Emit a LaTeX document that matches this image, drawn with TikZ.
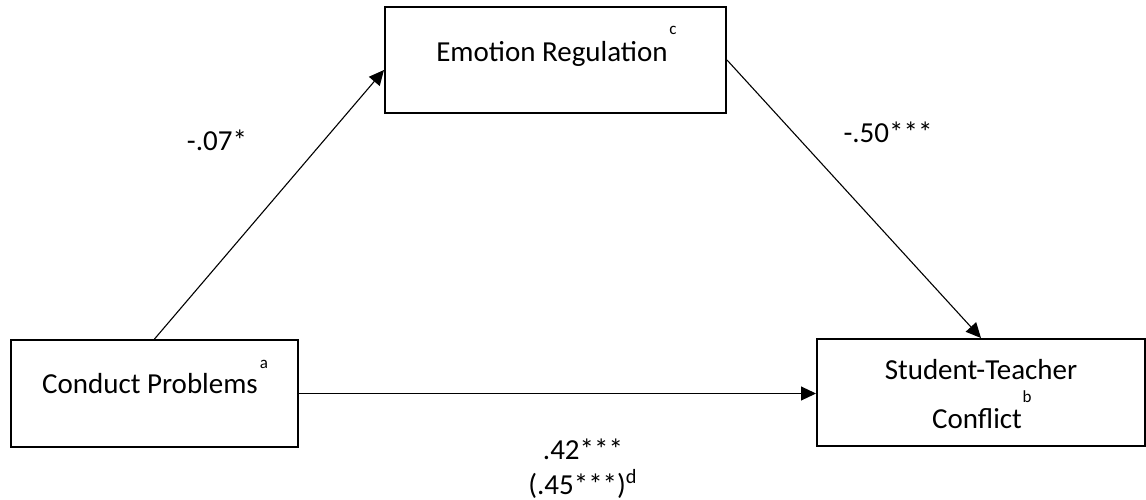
\documentclass[tikz,border=0pt]{standalone}
\usepackage{fontspec}
\setmainfont{Carlito}
\usepackage{tikz}
\usetikzlibrary{arrows.meta, positioning}

\begin{document}
\begin{tikzpicture}[x=0.5pt, y=-0.5pt,
    every node/.style={font=\fontsize{14.5}{17}\selectfont},
    varbox/.style={draw=black, line width=1pt, inner sep=0pt},
    vartext/.style={anchor=base, inner sep=0pt},
    supmark/.style={anchor=base, inner sep=0pt, font=\fontsize{8.5}{10}\selectfont},
    coef/.style={anchor=base, inner sep=0pt},
    path/.style={line width=0.55pt, -{Triangle[length=7.5pt, width=7pt]}}]
  \useasboundingbox (0,0) rectangle (1146,499);

  % Boxes
  \node[varbox, minimum width=170.5pt, minimum height=53pt] (er) at (555.5,60) {};
  \node[varbox, minimum width=143.5pt, minimum height=53.5pt] (cp) at (154.5,393.5) {};
  \node[varbox, minimum width=164pt, minimum height=53.5pt] (st) at (981,392.5) {};

  % Box texts
  \node[vartext] (ertext) at (552,61) {Emotion Regulation};
  \node[supmark] (ersup) at (673,34) {c};
  \node[vartext] (cptext) at (150,393) {Conduct Problems};
  \node[supmark] (cpsup) at (264,368) {a};
  \node[vartext] (sttext1) at (981,379) {Student-Teacher};
  \node[vartext] (sttext2) at (977,428) {Conflict};
  \node[supmark] (stsup) at (1027,402) {b};

  % Paths
  \draw[path] (cp.north) -- ([yshift=-5pt]er.west);
  \draw[path] (er.east) -- (st.north);
  \draw[path] (cp.east) -- (cp.east -| st.west);

  % Coefficients
  \node[coef] (a) at (217,150) {-.07*};
  \node[coef] (b) at (888,142) {-.50***};
  \node[coef] (c) at (583,459) {.42***};
  \node[coef] (cprime) at (583,494) {(.45***)\textsuperscript{d}};
\end{tikzpicture}
\end{document}
